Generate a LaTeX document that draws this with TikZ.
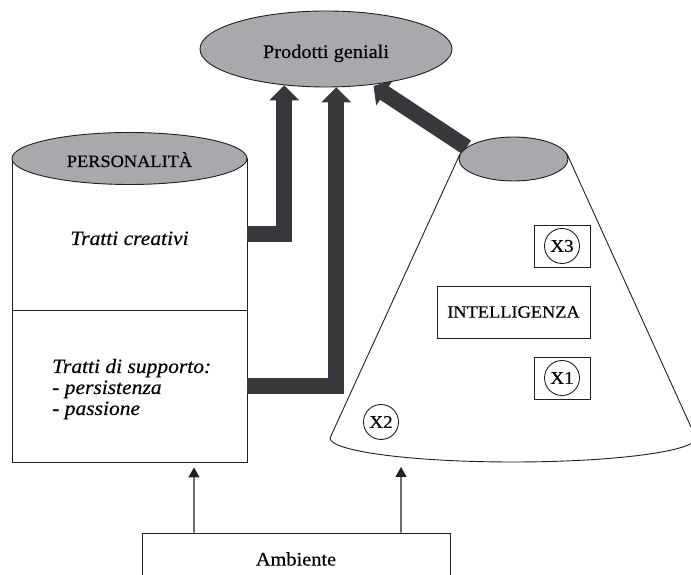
\documentclass[tikz,border=0pt]{standalone}
\usepackage{fontspec}
\setmainfont{Liberation Serif}[FakeStretch=1.06,FakeBold=0.35]
\usetikzlibrary{arrows.meta,shapes.geometric,backgrounds}
\definecolor{shade}{HTML}{A7A9AC}
\definecolor{band}{HTML}{37383B}
\definecolor{ink}{HTML}{231F20}

\begin{document}
\begin{tikzpicture}[x=1bp,y=1bp,
  outline/.style={draw=ink,line width=0.9bp},
  oval/.style={ellipse,outline,fill=shade,inner sep=0pt},
  panel/.style={rectangle,outline,fill=white,inner sep=0pt},
  txt/.style={inner sep=0pt,font=\fontsize{19.2bp}{20bp}\selectfont},
  captxt/.style={inner sep=0pt,font=\fontsize{17.3bp}{18bp}\selectfont},
  ittxt/.style={inner sep=0pt,font=\itshape\fontsize{20.3bp}{21bp}\selectfont},
  tagcircle/.style={circle,outline,inner sep=0pt,minimum size=35bp,
    font=\fontsize{18bp}{18bp}\selectfont},
  bigarrow/.style={draw=band,line width=16bp,line join=miter,
    -{Triangle[width=29bp,length=15bp]}},
  thinarrow/.style={draw=ink,line width=1.1bp,
    -{Triangle[width=11bp,length=10bp]}},
]
\useasboundingbox (0,0) rectangle (691,575);

% Outcome at the top
\node[oval,minimum width=252bp,minimum height=76bp] (prod) at (326,526) {};
\node[txt,anchor=base] (prodtext) at (326,517) {Prodotti geniali};

% Personality cylinder
\node[panel,minimum width=235bp,minimum height=152bp] (creativi) at (129.5,341) {};
\node[panel,minimum width=235bp,minimum height=152bp] (supporto) at (129.5,189) {};
\node[oval,minimum width=235bp,minimum height=52bp] (perstop) at (129.5,416.5) {};
\node[captxt,anchor=base] (perslabel) at (129.5,408) {PERSONALITÀ};
\node[ittxt,anchor=base] (crtext) at (129.5,330) {Tratti creativi};
\node[ittxt,anchor=base west] (supp1) at (52,202) {Tratti di supporto:};
\node[ittxt,anchor=base west] (supp2) at (52,181) {- persistenza};
\node[ittxt,anchor=base west] (supp3) at (52,160) {- passione};

% Intelligence cone
\node[oval,minimum width=109bp,minimum height=44bp] (conetop) at (513.5,416) {};
\begin{scope}[on background layer]
  \fill[white] (460,421) -- (330,137)
    arc[start angle=180,end angle=360,x radius=183,y radius=24]
    -- (567,421) -- cycle;
  \draw[outline] (460,421) -- (330,137)
    arc[start angle=180,end angle=360,x radius=183,y radius=24]
    -- (567,421);
  \draw[draw=band,line width=16bp,
    -{Triangle[width=29bp,length=13bp]},shorten >=2bp]
    (conetop.166) -- (prod.322);
\end{scope}

\node[panel,minimum width=56bp,minimum height=42bp] (boxthree) at (562,329) {};
\node[tagcircle] (xthree) at (562,329) {X3};
\node[panel,minimum width=153bp,minimum height=52bp,captxt] (intel) at (513.5,263) {INTELLIGENZA};
\node[panel,minimum width=56bp,minimum height=42bp] (boxone) at (562,197) {};
\node[tagcircle] (xone) at (562,197) {X1};
\node[tagcircle] (xtwo) at (381,153) {X2};

% Environment
\node[panel,minimum width=308bp,minimum height=52bp,txt] (ambiente) at (296,16) {Ambiente};
\coordinate (conein) at (401,108);

% Thick influence arrows
\draw[bigarrow] (creativi.east) -| (prod.221);
\draw[bigarrow] (supporto.east) -| (prod.285);

% Thin arrows from the environment
\draw[thinarrow] ([xshift=-102bp]ambiente.north) -- ([xshift=64.5bp,yshift=-5bp]supporto.south);
\draw[thinarrow] ([xshift=105bp]ambiente.north) -- (conein);
\end{tikzpicture}
\end{document}
